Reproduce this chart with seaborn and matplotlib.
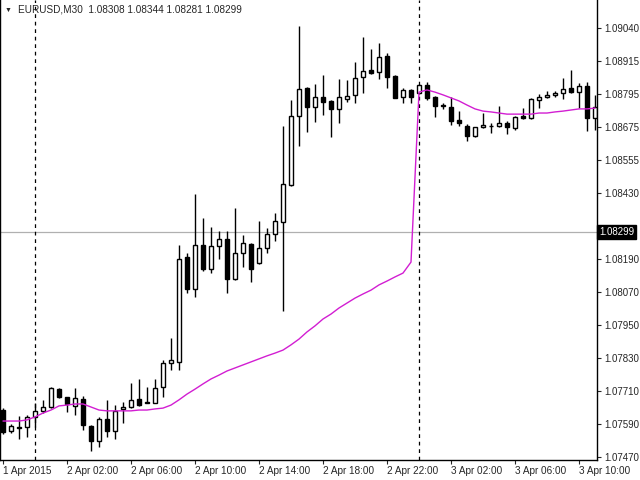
import matplotlib
matplotlib.use("Agg")
import matplotlib.pyplot as plt
import seaborn as sns
import numpy as np
import pandas as pd

opens  = [107651,107575,107589,107589,107626,107648,107662,107727,107698,107666,107691,107593,107538,107618,107575,107655,107662,107691,107677,107677,
          107735,107822,107826,108208,108091,108251,108164,108248,108273,108128,108222,108255,108186,108240,108291,108335,108469,108720,108822,108753,
          108789,108775,108746,108782,108797,108862,108887,108880,108938,108866,108789,108815,108804,108833,108789,108760,108753,108706,108684,108647,
          108680,108684,108684,108695,108677,108720,108713,108778,108789,108797,108804,108822,108807,108829,108713]
highs  = [107658,107600,107629,107633,107677,107688,107735,107731,107700,107731,107702,107595,107626,107688,107669,107680,107749,107764,107735,107764,
          107833,107913,108251,108222,108437,108349,108317,108302,108302,108386,108288,108258,108338,108313,108368,108684,108778,109048,108826,108837,
          108869,108778,108855,108851,108917,109007,108964,108986,108949,108868,108822,108817,108835,108844,108793,108767,108789,108738,108691,108682,
          108731,108695,108757,108702,108720,108749,108786,108800,108811,108811,108858,108887,108840,108844,108797]
lows   = [107564,107568,107546,107553,107589,107640,107658,107695,107644,107633,107578,107502,107517,107553,107546,107604,107660,107667,107675,107675,
          107698,107797,107797,108077,108062,108157,108149,108200,108077,108125,108171,108117,108183,108222,108266,108011,108466,108611,108662,108698,
          108724,108644,108695,108771,108767,108804,108873,108855,108822,108784,108767,108767,108802,108778,108717,108746,108687,108684,108629,108644,
          108678,108658,108680,108655,108669,108709,108709,108749,108786,108789,108782,108805,108749,108666,108669]
closes = [107571,107593,107586,107626,107648,107662,107731,107698,107673,107695,107597,107538,107618,107575,107648,107662,107688,107669,107680,107731,
          107822,107833,108200,108091,108251,108164,108248,108273,108128,108222,108258,108164,108240,108291,108338,108473,108720,108818,108753,108789,
          108771,108746,108789,108793,108858,108884,108877,108935,108862,108786,108815,108789,108833,108786,108757,108755,108702,108695,108647,108680,
          108687,108685,108695,108680,108717,108713,108782,108789,108797,108804,108818,108807,108829,108713,108753]
ma     = [107611,107611,107611,107615,107626,107640,107651,107666,107669,107673,107673,107662,107651,107648,107648,107648,107648,107651,107651,107655,
          107658,107669,107688,107709,107727,107746,107764,107778,107793,107804,107815,107826,107837,107848,107858,107869,107888,107909,107935,107957,
          107982,108000,108022,108040,108058,108073,108087,108106,108120,108135,108149,108189,108807,108815,108807,108797,108786,108775,108760,108746,
          108738,108735,108731,108727,108727,108727,108727,108731,108731,108735,108738,108742,108746,108746,108749]

time_labels = ["1 Apr 2015", "2 Apr 02:00", "2 Apr 06:00", "2 Apr 10:00", "2 Apr 14:00",
               "2 Apr 18:00", "2 Apr 22:00", "3 Apr 02:00", "3 Apr 06:00", "3 Apr 10:00"]
price_labels = ["1.09040", "1.08915", "1.08795", "1.08675", "1.08555", "1.08430", "1.08310",
                "1.08190", "1.08070", "1.07950", "1.07830", "1.07710", "1.07590", "1.07470"]
current_price = 1.08299
header = "EURUSD,M30  1.08308 1.08344 1.08281 1.08299"

sc = 1e-5
df = pd.DataFrame({"i": np.arange(len(opens)),
                   "o": np.array(opens) * sc, "h": np.array(highs) * sc,
                   "l": np.array(lows) * sc, "c": np.array(closes) * sc,
                   "ma": np.array(ma) * sc})

sns.set_style("white")
plt.rcParams['font.family'] = ['Liberation Sans', 'DejaVu Sans']
fig = plt.figure(figsize=(6.4, 4.8), dpi=100)
ax = fig.add_axes([0.0, 1 - 460 / 480, 597 / 640, 460 / 480])

ax.axhline(current_price, color="#b0b0b0", lw=0.9, zorder=0)
for xi in (4, 52):
    ax.axvline(xi, color="black", lw=0.9, ls=(0, (3, 3)), zorder=0)

ax.vlines(df["i"], df["l"], df["h"], color="black", lw=1.0, zorder=1)
bull = df["c"] >= df["o"]
body_lo = np.minimum(df["o"], df["c"])
body_h = np.maximum(np.abs(df["c"] - df["o"]), 0.000012)
ax.bar(df["i"][bull], body_h[bull], bottom=body_lo[bull], width=0.62,
       color="white", edgecolor="black", lw=1.0, zorder=2)
ax.bar(df["i"][~bull], body_h[~bull], bottom=body_lo[~bull], width=0.62,
       color="black", edgecolor="black", lw=1.0, zorder=2)

sns.lineplot(data=df, x="i", y="ma", color="#d21ed2", lw=1.0, ax=ax, zorder=3)

ax.set_xlim(-0.375, 74.25)
ax.set_ylim(1.074693, 1.091420)
ax.set_xlabel("")
ax.set_ylabel("")

ax.set_xticks(np.arange(0, 73, 8))
ax.set_xticklabels(time_labels, fontsize=7.2)
for t in ax.get_xticklabels():
    t.set_horizontalalignment("left")
ax.tick_params(axis="x", length=3, width=0.8, direction="out", pad=1, bottom=True)

yt = 1.09040 - np.arange(len(price_labels)) * 0.0012
ax.yaxis.tick_right()
ax.set_yticks(yt)
ax.set_yticklabels(price_labels, fontsize=7.0)
ax.tick_params(axis="y", length=3, width=0.8, direction="out", pad=2, right=True, left=False)
for t, lab in zip(ax.get_yticklabels(), price_labels):
    if lab == "1.08310":
        t.set_visible(False)

ax.text(1.004, current_price, "1.08299", transform=ax.get_yaxis_transform(),
        fontsize=7.0, color="white", va="center", ha="left",
        bbox=dict(boxstyle="square,pad=0.2", fc="black", ec="black"))

for s in ax.spines.values():
    s.set_color("black")
    s.set_linewidth(1.0)
ax.spines["top"].set_visible(False)

ax.text(0.008, 0.985, "\u25bc", transform=ax.transAxes, fontsize=5, va="top", ha="left")
ax.text(0.03, 0.99, header, transform=ax.transAxes, fontsize=7.2, va="top", ha="left")

fig.savefig("out.png", dpi=100)
